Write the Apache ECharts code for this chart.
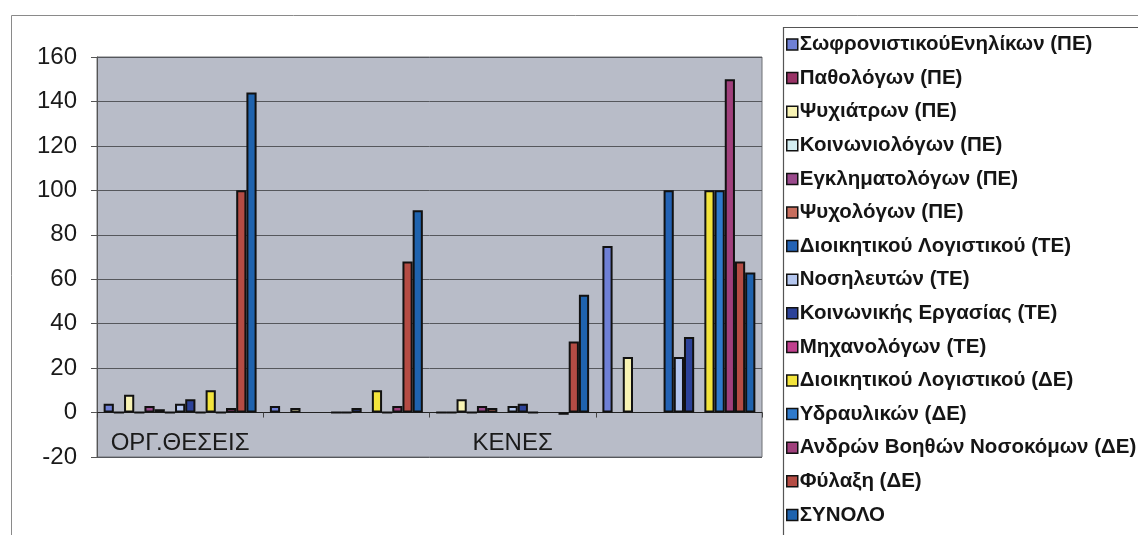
<!DOCTYPE html>
<html>
<head>
<meta charset="utf-8">
<script src="https://cdn.jsdelivr.net/npm/echarts@6/dist/echarts.min.js"></script>
<style>
  html, body { margin: 0; padding: 0; background: #ffffff; }
  #chart { width: 1138px; height: 535px; }
</style>
</head>
<body>
<div id="chart"></div>
<script>
// Categories along the x axis (only the 1st and 3rd carry a printed label)
const categories = ['ΟΡΓ.ΘΕΣΕΙΣ', '', 'ΚΕΝΕΣ', ''];

// Staff specialities, in legend order
const seriesNames = [
  'ΣωφρονιστικούΕνηλίκων (ΠΕ)',
  'Παθολόγων (ΠΕ)',
  'Ψυχιάτρων (ΠΕ)',
  'Κοινωνιολόγων (ΠΕ)',
  'Εγκληματολόγων (ΠΕ)',
  'Ψυχολόγων (ΠΕ)',
  'Διοικητικού Λογιστικού (ΤΕ)',
  'Νοσηλευτών (ΤΕ)',
  'Κοινωνικής Εργασίας (ΤΕ)',
  'Μηχανολόγων (ΤΕ)',
  'Διοικητικού Λογιστικού (ΔΕ)',
  'Υδραυλικών (ΔΕ)',
  'Ανδρών Βοηθών Νοσοκόμων (ΔΕ)',
  'Φύλαξη (ΔΕ)',
  'ΣΥΝΟΛΟ'
];

// Values per speciality, one entry per category (null = no bar)
const sofronistikou   = [4, 3, 0, 75];
const pathologon      = [0, null, 0, null];
const psychiatron     = [8, 2, 6, 25];
const koinoniologon   = [0, null, 0, null];
const egklimatologon  = [3, null, 3, null];
const psychologon     = [1.5, null, 2, null];
const dioikTE         = [0, 0, null, 100];
const nosileuton      = [4, 0, 3, 25];
const koinErgasias    = [6, 2, 4, 34];
const michanologon    = [0, null, 0, null];
const dioikDE         = [10, 10, null, 100];
const ydravlikon      = [0, 0, null, 100];
const voithonNosok    = [2, 3, -1, 150];
const fylaxi          = [100, 68, 32, 68];
const synolo          = [144, 91, 53, 63];

const seriesValues = [
  sofronistikou, pathologon, psychiatron, koinoniologon, egklimatologon,
  psychologon, dioikTE, nosileuton, koinErgasias, michanologon,
  dioikDE, ydravlikon, voithonNosok, fylaxi, synolo
];

// Fill colours for each speciality
const seriesColors = [
  '#6f80d6', '#993366', '#f8f3b4', '#d4eef2', '#9a4a8c',
  '#c86e5e', '#2362b4', '#b4c6ee', '#2c4299', '#c0408e',
  '#f3e43c', '#2f7acc', '#a0407c', '#b44c44', '#1f63ae'
];

// Y axis tick values
const yMin = -20, yMax = 160, yStep = 20;

const FONT = 'Liberation Sans, Arial, sans-serif';

const series = seriesNames.map((name, i) => ({
  name: name,
  type: 'bar',
  xAxisIndex: 0,
  data: seriesValues[i],
  barGap: 0,
  barCategoryGap: '8%',
  itemStyle: {
    color: seriesColors[i],
    borderColor: '#111111',
    borderWidth: 2
  },
  emphasis: { disabled: true }
}));

const chart = echarts.init(document.getElementById('chart'), null, { renderer: 'canvas' });

chart.setOption({
  animation: false,
  backgroundColor: '#ffffff',
  textStyle: { fontFamily: FONT },
  grid: {
    left: 97, top: 57, right: 376, bottom: 78,
    show: true,
    backgroundColor: '#b8bcc8',
    borderColor: '#6f7075',
    borderWidth: 1
  },
  legend: {
    orient: 'vertical',
    left: 786,
    top: 34,
    padding: 0,
    itemWidth: 11,
    itemHeight: 11,
    itemGap: 12.6,
    icon: 'rect',
    selectedMode: false,
    itemStyle: { borderColor: '#111111', borderWidth: 1.5 },
    textStyle: {
      fontSize: 20.5,
      fontWeight: 'bold',
      color: '#151515',
      fontFamily: FONT,
      padding: [0, 0, 0, -3]
    },
    data: seriesNames
  },
  xAxis: [
    {
      // category axis crossing the value axis at zero, with boundary ticks
      type: 'category',
      data: categories,
      position: 'bottom',
      axisLine: { onZero: true, lineStyle: { color: '#222222', width: 1.2 } },
      axisTick: { show: true, length: 5, lineStyle: { color: '#444444' } },
      axisLabel: { show: false }
    },
    {
      // category names, drawn along the bottom edge inside the plot
      type: 'category',
      data: categories,
      position: 'bottom',
      axisLine: { show: false, onZero: false },
      axisTick: { show: false },
      splitLine: { show: false },
      axisLabel: {
        inside: true,
        interval: 0,
        margin: 2,
        fontSize: 24,
        color: '#1a1a1a',
        fontFamily: FONT
      }
    }
  ],
  yAxis: {
    type: 'value',
    min: yMin,
    max: yMax,
    interval: yStep,
    axisLine: { show: true, lineStyle: { color: '#555555' } },
    axisTick: { show: true, length: 6, lineStyle: { color: '#555555' } },
    axisLabel: {
      margin: 20,
      fontSize: 24,
      color: '#1a1a1a',
      fontFamily: FONT
    },
    splitLine: { show: true, lineStyle: { color: '#55575c', width: 1 } }
  },
  graphic: [
    // outer chart frame
    {
      type: 'rect',
      shape: { x: 11.5, y: 15.5, width: 1200, height: 600 },
      style: { fill: 'none', stroke: '#8a8a8a', lineWidth: 1 },
      silent: true
    },
    // legend frame
    {
      type: 'rect',
      shape: { x: 783.5, y: 27.5, width: 400, height: 600 },
      style: { fill: 'none', stroke: '#555555', lineWidth: 1.2 },
      silent: true
    }
  ],
  series: series
});
</script>
</body>
</html>
